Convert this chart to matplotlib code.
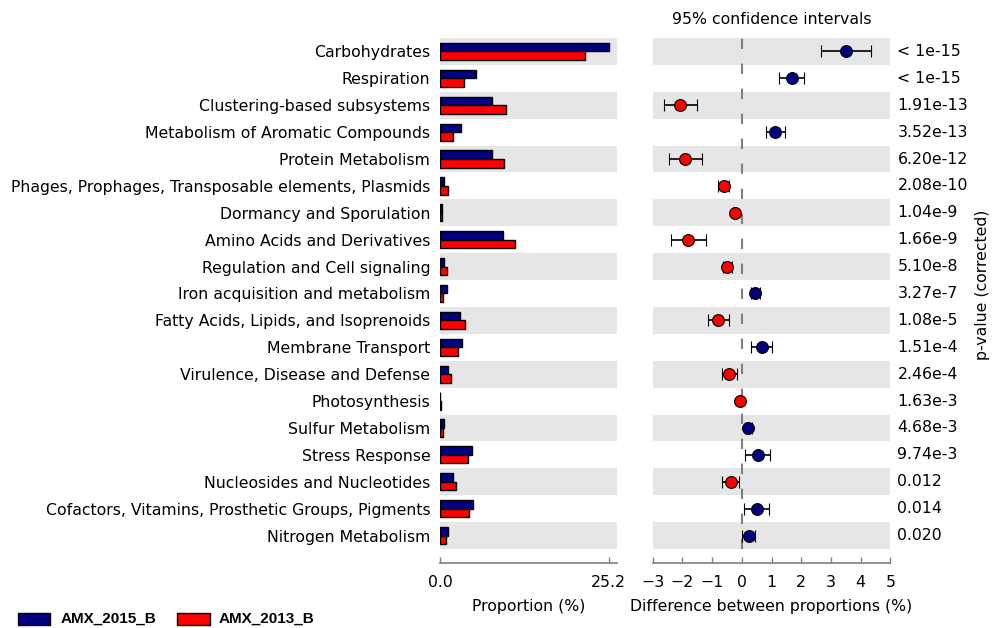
import matplotlib
matplotlib.use("Agg")
import matplotlib.pyplot as plt
import numpy as np
from matplotlib.patches import Rectangle

categories = [
    "Carbohydrates", "Respiration", "Clustering-based subsystems",
    "Metabolism of Aromatic Compounds", "Protein Metabolism",
    "Phages, Prophages, Transposable elements, Plasmids",
    "Dormancy and Sporulation", "Amino Acids and Derivatives",
    "Regulation and Cell signaling", "Iron acquisition and metabolism",
    "Fatty Acids, Lipids, and Isoprenoids", "Membrane Transport",
    "Virulence, Disease and Defense", "Photosynthesis", "Sulfur Metabolism",
    "Stress Response", "Nucleosides and Nucleotides",
    "Cofactors, Vitamins, Prosthetic Groups, Pigments", "Nitrogen Metabolism",
]
prop_2015 = [25.2, 5.4, 7.8, 3.1, 7.7, 0.65, 0.25, 9.4, 0.6, 1.0,
             3.0, 3.3, 1.15, 0.06, 0.65, 4.8, 2.0, 4.9, 1.25]
prop_2013 = [21.7, 3.6, 9.8, 2.0, 9.5, 1.25, 0.3, 11.2, 1.1, 0.5,
             3.8, 2.7, 1.6, 0.1, 0.4, 4.2, 2.4, 4.4, 0.9]
diff = [3.5, 1.68, -2.07, 1.13, -1.9, -0.6, -0.23, -1.81, -0.49, 0.45,
        -0.8, 0.67, -0.44, -0.06, 0.22, 0.54, -0.36, 0.5, 0.25]
ci_low = [2.67, 1.25, -2.62, 0.81, -2.45, -0.79, -0.28, -2.39, -0.64, 0.3,
          -1.15, 0.3, -0.67, -0.09, 0.1, 0.12, -0.67, 0.07, 0.01]
ci_high = [4.34, 2.09, -1.5, 1.47, -1.35, -0.42, -0.18, -1.22, -0.33, 0.62,
           -0.42, 1.01, -0.17, -0.03, 0.35, 0.95, -0.08, 0.93, 0.44]
pvalues = ["< 1e-15", "< 1e-15", "1.91e-13", "3.52e-13", "6.20e-12", "2.08e-10",
           "1.04e-9", "1.66e-9", "5.10e-8", "3.27e-7", "1.08e-5", "1.51e-4",
           "2.46e-4", "1.63e-3", "4.68e-3", "9.74e-3", "0.012", "0.014", "0.020"]
group_names = ["AMX_2015_B", "AMX_2013_B"]

c1 = "#000080"
c2 = "#ff0000"
band = "#e6e6e6"
spine_col = "#808080"
fs = 11.3

plt.rcParams["font.family"] = ["DejaVu Sans"]
fig = plt.figure(figsize=(10, 6.28), dpi=100)

n = len(categories)
ypos = np.arange(n)
top = 1 - 38 / 628
bot = 1 - 549 / 628
ax1 = fig.add_axes([0.44, bot, 0.177, top - bot])
ax2 = fig.add_axes([0.6527, bot, 0.2376, top - bot])

for ax in (ax1, ax2):
    ax.set_ylim(n - 0.5, -0.5)
    for i in range(0, n, 2):
        ax.axhspan(i - 0.5, i + 0.5, color=band, lw=0, zorder=0)
    for s in ("top", "right", "left"):
        ax.spines[s].set_visible(False)
    ax.spines["bottom"].set_position(("outward", 10))
    ax.spines["bottom"].set_color(spine_col)
    ax.spines["bottom"].set_linewidth(1.2)
    ax.tick_params(axis="x", direction="in", length=4, width=1.0, color=spine_col,
                   labelsize=fs, pad=9)
    ax.tick_params(axis="y", length=0)

# bar plot
h = 0.32
ax1.barh(ypos - h / 2, prop_2015, height=h, color=c1, edgecolor="black", lw=1, zorder=2)
ax1.barh(ypos + h / 2, prop_2013, height=h, color=c2, edgecolor="black", lw=1, zorder=2)
maxv = max(max(prop_2015), max(prop_2013))
ax1.set_xlim(0, maxv * 1.05)
ax1.set_xticks([0, maxv])
ax1.set_xticklabels(["0.0", "%.1f" % maxv])
ax1.set_yticks(ypos)
ax1.set_yticklabels(categories, fontsize=fs)
ax1.tick_params(axis="y", pad=7)
ax1.set_xlabel("Proportion (%)", fontsize=fs, labelpad=6)

# difference plot
ax2.set_xlim(-3, 5)
ax2.set_xticks(range(-3, 6))
ax2.set_yticks([])
ax2.axvline(0, color="#808080", ls=(0, (5, 7)), lw=1.5, ymin=0, ymax=1.015,
            clip_on=False, zorder=1)
d = np.array(diff)
lo = d - np.array(ci_low)
hi = np.array(ci_high) - d
for i in range(n):
    col = c1 if d[i] > 0 else c2
    ax2.errorbar(d[i], ypos[i], xerr=[[lo[i]], [hi[i]]], fmt="o", color=col,
                 ecolor="black", elinewidth=1.2, capsize=4, capthick=1.2,
                 markersize=8.5, markeredgecolor="black", markeredgewidth=0.8,
                 zorder=3)
ax2.set_xlabel("Difference between proportions (%)", fontsize=fs, labelpad=6)
ax2.set_title("95% confidence intervals", fontsize=fs, pad=10)

# p-values
for i, p in enumerate(pvalues):
    ax2.text(1.03, ypos[i], p, transform=ax2.get_yaxis_transform(),
             ha="left", va="center", fontsize=fs)
fig.text(0.983, 1 - 285 / 628, "p-value (corrected)", rotation=90,
         ha="center", va="center", fontsize=fs)

# legend
ly = 1 - 619 / 628
fig.patches.append(Rectangle((0.018, ly - 0.009), 0.032, 0.019, transform=fig.transFigure,
                             facecolor=c1, edgecolor="black", lw=1))
fig.text(0.061, ly, group_names[0], fontsize=11, fontweight="bold",
         family="Liberation Sans", va="center")
fig.patches.append(Rectangle((0.177, ly - 0.009), 0.033, 0.019, transform=fig.transFigure,
                             facecolor=c2, edgecolor="black", lw=1))
fig.text(0.219, ly, group_names[1], fontsize=11, fontweight="bold",
         family="Liberation Sans", va="center")

fig.savefig("out.png", dpi=100)
